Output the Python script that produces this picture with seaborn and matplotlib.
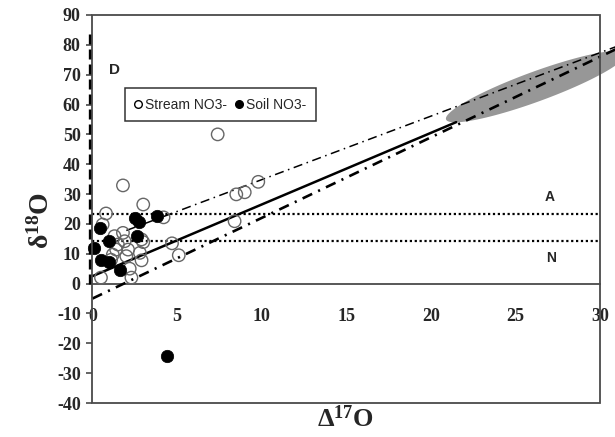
import numpy as np
import pandas as pd
import matplotlib
matplotlib.use("Agg")
import matplotlib.pyplot as plt
from matplotlib.patches import Polygon, Rectangle
from matplotlib.lines import Line2D
import seaborn as sns

# ---- data ----
stream_x = [7.4, 1.8, 9.8, 8.5, 9.0, 8.4, 3.0, 4.2, 0.8, 4.7, 5.1, 2.9, 0.5, 2.3, 2.2,
            1.3, 1.8, 1.9, 2.9, 3.0, 1.5, 1.4, 2.1, 1.2, 2.0, 2.8, 1.1, 0.6]
stream_y = [50.0, 32.9, 34.1, 29.9, 30.6, 20.9, 26.5, 22.2, 23.5, 13.5, 9.5, 7.8, 2.0, 2.0, 5.0,
            15.9, 17.0, 14.2, 14.8, 13.9, 13.1, 11.4, 11.4, 9.7, 9.2, 10.3, 8.0, 19.8]
soil_x = [0.1, 0.45, 0.5, 0.95, 1.0, 1.65, 2.5, 2.75, 2.65, 3.8, 4.4]
soil_y = [11.8, 18.8, 7.8, 7.1, 14.2, 4.4, 22.0, 20.8, 16.1, 22.6, -24.3]

solid_x = [0.0, 21.5]
solid_y = [2.5, 54.1]
steep_x = [0.0, 31.0]
steep_y = [-5.0, 78.7]
upper_x = [2.0, 31.0]
upper_y = [17.8, 79.5]
d_x = [-0.12, -0.12]
d_y = [0.0, 84.0]
atm_level = 23.4
nit_level = 14.4

ell_center = (26.2, 66.0)
ell_major = (5.3, 11.0)
ell_minor = (-0.3, 4.7)

xticks = [0, 5, 10, 15, 20, 25, 30]
yticks = [90, 80, 70, 60, 50, 40, 30, 20, 10, 0, -10, -20, -30, -40]

# ---- style ----
sns.set_style("white")
plt.rcParams['font.family'] = ['Liberation Serif', 'DejaVu Serif']
plt.rcParams['mathtext.fontset'] = 'custom'
plt.rcParams['mathtext.rm'] = 'Liberation Serif:bold'
plt.rcParams['mathtext.bf'] = 'Liberation Serif:bold'
plt.rcParams['mathtext.it'] = 'Liberation Serif:bold'

fig = plt.figure(figsize=(6.15, 4.37), dpi=100)
ax = fig.add_axes([0.1504, 0.0778, 0.8252, 0.8879])
ax.set_xlim(0, 30)
ax.set_ylim(-40, 90)

frame_col = "#4a4a4a"

# ellipse
t = np.linspace(0, 2 * np.pi, 200)
ex = ell_center[0] + ell_major[0] * np.cos(t) + ell_minor[0] * np.sin(t)
ey = ell_center[1] + ell_major[1] * np.cos(t) + ell_minor[1] * np.sin(t)
ax.add_patch(Polygon(np.column_stack([ex, ey]), closed=True, facecolor="#979797",
                     edgecolor="none", zorder=1, clip_on=False))

# reference lines
ax.plot([0, 30], [atm_level, atm_level], color="black", lw=1.6, ls=(0, (1, 1.2)), zorder=2)
ax.plot([0, 30], [nit_level, nit_level], color="black", lw=1.6, ls=(0, (1, 1.2)), zorder=2)
ax.plot(solid_x, solid_y, color="black", lw=1.8, zorder=3)
ax.plot(steep_x, steep_y, color="black", lw=1.9, ls=(0, (4, 2.5, 0.8, 2.5)), zorder=3, clip_on=False)
ax.plot(upper_x, upper_y, color="black", lw=1.1, ls=(0, (6, 3, 1, 3)), zorder=3, clip_on=False)
ax.plot(d_x, d_y, color="black", lw=2.4, ls=(0, (3, 1.5)), zorder=3, clip_on=False)

# scatter
sdf = pd.DataFrame({"x": stream_x, "y": stream_y})
odf = pd.DataFrame({"x": soil_x, "y": soil_y})
sns.scatterplot(data=sdf, x="x", y="y", ax=ax, s=80, marker="o", facecolor="none",
                edgecolor="#666666", linewidth=1.0, zorder=4, legend=False, clip_on=False)
sns.scatterplot(data=odf, x="x", y="y", ax=ax, s=80, marker="o", color="black",
                edgecolor="black", linewidth=0.5, zorder=5, legend=False, clip_on=False)

# axes frame / axis at zero
for side in ["top", "right", "left"]:
    ax.spines[side].set_visible(False)
ax.spines["bottom"].set_position(("data", 0))
ax.spines["bottom"].set_color(frame_col)
ax.spines["bottom"].set_linewidth(1.3)
ax.add_patch(Rectangle((0, 0), 1, 1, transform=ax.transAxes, fill=False,
                       edgecolor=frame_col, lw=1.3, zorder=6, clip_on=False))

ax.set_xticks(xticks)
ax.set_yticks(yticks)
ax.set_xticklabels([str(v) for v in xticks], fontweight="bold", fontsize=13)
ax.set_yticklabels([str(v) for v in yticks], fontweight="bold", fontsize=13)
ax.tick_params(axis="x", direction="out", length=4.5, width=1.2, color=frame_col, pad=13)
ax.tick_params(axis="y", direction="out", length=4.5, width=1.2, color=frame_col, pad=4,
               left=True)
ax.set_xlabel("")
ax.set_ylabel("")

fig.text(0.067, 0.495, r"δ$^{18}$O", rotation=90, ha="center", va="center",
         fontsize=20, fontweight="bold")
fig.text(0.561, 0.043, r"Δ$^{17}$O", ha="center", va="center",
         fontsize=19, fontweight="bold")

# labels D, A, N
sans = ['Liberation Sans', 'DejaVu Sans']
ax.text(1.3, 71.7, "D", family=sans, fontweight="bold", fontsize=11, ha="center", va="center")
ax.text(27.0, 28.9, "A", family=sans, fontweight="bold", fontsize=10, ha="center", va="center")
ax.text(27.1, 8.7, "N", family=sans, fontweight="bold", fontsize=10, ha="center", va="center")

# legend
handles = [
    Line2D([], [], ls="none", marker="o", markersize=5.5, markerfacecolor="white",
           markeredgecolor="black", markeredgewidth=1.0, label="Stream NO3-"),
    Line2D([], [], ls="none", marker="o", markersize=5.5, markerfacecolor="black",
           markeredgecolor="black", label="Soil NO3-"),
]
leg = ax.legend(handles=handles, loc="upper left", bbox_to_anchor=(0.064, 0.812),
                borderaxespad=0, ncol=2, frameon=True, fancybox=False,
                prop={"family": sans, "size": 10}, handlelength=0.5, handletextpad=0.25,
                columnspacing=0.6, borderpad=0.7)
leg.get_frame().set_edgecolor("black")
leg.get_frame().set_linewidth(1.1)
leg.set_zorder(7)

fig.savefig("out.png", dpi=100)
